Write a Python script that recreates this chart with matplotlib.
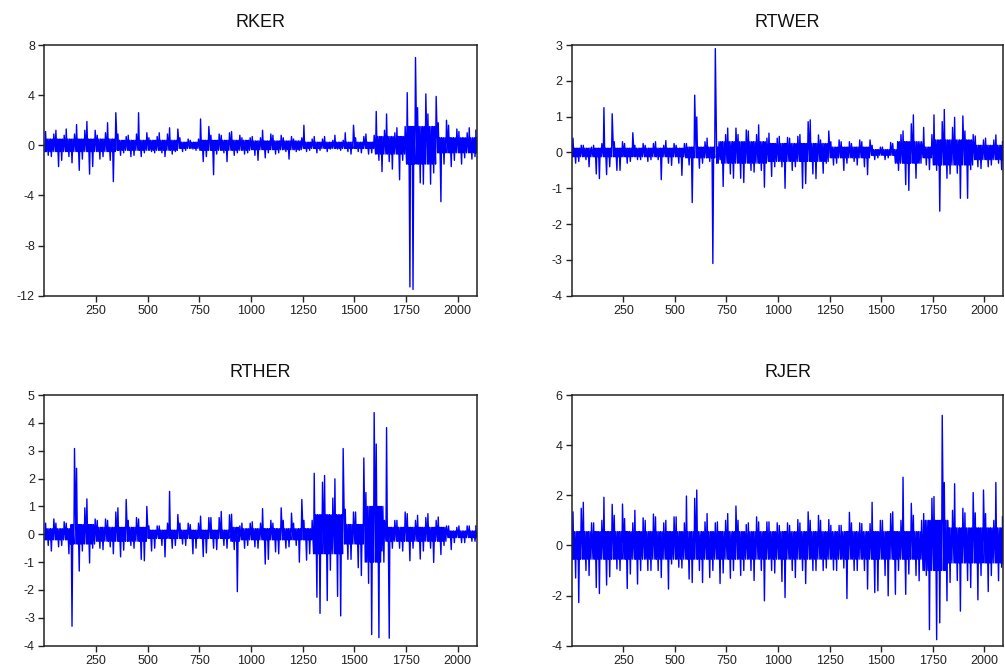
import numpy as np
import matplotlib
matplotlib.use("Agg")
import matplotlib.pyplot as plt

plt.rcParams['font.family'] = ['Liberation Sans', 'DejaVu Sans']
plt.rcParams['axes.unicode_minus'] = False

n_obs = 2088
bin_width = 25

rker_hi = [1.1, 0.9, 1.2, 0.8, 1.3, 0.9, 1.65, 1.2, 1.9, 1.2,
           0.8, 1.0, 1.8, 2.6, 0.9, 0.7, 0.8, 0.9, 2.6, 1.0,
           0.6, 0.7, 1.0, 0.9, 1.4, 1.3, 0.6, 0.5, 0.4, 0.5,
           2.1, 1.5, 0.8, 0.9, 0.8, 1.0, 1.1, 0.8, 0.6, 0.6,
           0.7, 0.6, 1.2, 0.9, 0.8, 0.8, 0.6, 0.7, 0.5, 0.6,
           1.6, 0.5, 0.7, 0.5, 0.7, 0.4, 0.8, 0.4, 1.0, 1.6,
           0.6, 0.7, 0.9, 0.8, 2.7, 1.2, 2.5, 1.0, 1.4, 1.5,
           4.2, 7.0, 3.0, 4.1, 2.5, 3.9, 1.8, 2.0, 1.6, 1.3,
           1.1, 1.0, 1.4, 1.2]
rker_lo = [-0.8, -0.9, -1.7, -1.2, -0.9, -1.4, -2.0, -1.1, -2.3, -1.7,
           -1.1, -0.9, -1.2, -2.9, -0.8, -0.6, -0.9, -0.8, -0.9, -0.6,
           -0.5, -0.6, -0.6, -0.9, -0.7, -0.5, -0.5, -0.4, -0.3, -0.4,
           -1.3, -0.9, -2.35, -0.7, -0.6, -1.3, -0.8, -0.6, -0.7, -0.6,
           -0.8, -1.2, -1.0, -0.6, -0.7, -0.6, -0.5, -1.1, -0.5, -0.4,
           -0.5, -0.4, -0.6, -0.4, -0.5, -0.3, -0.3, -0.4, -0.5, -0.7,
           -0.5, -0.6, -0.7, -0.6, -1.2, -2.1, -1.3, -1.9, -2.75, -1.2,
           -11.3, -11.5, -3.0, -3.1, -3.1, -2.2, -4.5, -1.5, -1.7, -1.2,
           -1.5, -1.0, -1.1, -0.9]
# dense core of the trace: segment edges (obs) and half-width of the busy band
rker_core_edges = [0, 350, 650, 750, 1000, 1250, 1600, 1750, 1900, 2088]
rker_core_half = [0.5, 0.4, 0.25, 0.4, 0.35, 0.25, 0.7, 1.5, 0.6]

rtwer_hi = [0.4, 0.2, 0.2, 0.15, 0.2, 0.25, 1.25, 1.08, 0.3, 0.3,
            0.25, 0.55, 0.2, 0.25, 0.2, 0.25, 0.3, 0.2, 0.33, 0.25,
            0.2, 0.25, 0.25, 1.6, 0.99, 0.3, 0.4, 2.9, 0.15, 0.5,
            0.68, 0.68, 0.5, 0.63, 0.6, 0.5, 0.77, 0.4, 0.54, 0.4,
            0.45, 0.42, 0.4, 0.45, 0.5, 0.86, 0.91, 0.49, 0.35, 0.6,
            0.3, 0.35, 0.3, 0.3, 0.25, 0.35, 0.3, 0.35, 0.2, 0.15,
            0.15, 0.28, 0.25, 0.5, 0.6, 0.8, 1.05, 0.3, 0.7, 0.5,
            1.05, 0.86, 1.2, 0.7, 0.98, 1.02, 0.6, 0.5, 0.46, 0.35,
            0.4, 0.35, 0.49, 0.3]
rtwer_lo = [-0.3, -0.25, -0.2, -0.4, -0.6, -0.73, -0.62, -0.4, -0.5, -0.5,
            -0.3, -0.25, -0.2, -0.2, -0.25, -0.2, -0.2, -0.76, -0.3, -0.36,
            -0.3, -0.64, -0.35, -1.4, -0.44, -0.3, -0.25, -3.1, -0.2, -0.95,
            -0.6, -0.72, -0.72, -0.84, -0.5, -0.55, -0.5, -0.97, -0.67, -0.4,
            -0.4, -1.0, -0.5, -0.4, -1.0, -0.87, -0.6, -0.73, -0.58, -0.3,
            -0.35, -0.3, -0.5, -0.3, -0.25, -0.35, -0.4, -0.62, -0.2, -0.15,
            -0.2, -0.15, -0.3, -0.5, -0.9, -1.06, -0.72, -0.3, -0.35, -0.48,
            -0.5, -1.64, -0.72, -0.6, -0.58, -1.28, -1.28, -0.48, -0.4, -0.45,
            -0.4, -0.35, -0.3, -0.48]
rtwer_core_edges = [0, 550, 700, 950, 1250, 1450, 1580, 1700, 1750, 1950, 2088]
rtwer_core_half = [0.12, 0.15, 0.3, 0.25, 0.15, 0.08, 0.3, 0.15, 0.35, 0.2]

rther_hi = [0.4, 0.55, 0.4, 0.45, 0.4, 3.08, 2.37, 0.95, 1.27, 0.55,
            0.5, 0.55, 0.5, 0.8, 0.95, 1.25, 0.5, 0.6, 0.55, 1.0,
            0.3, 0.3, 0.3, 0.4, 1.54, 0.71, 0.4, 0.4, 0.35, 0.4,
            0.65, 0.6, 0.6, 0.6, 0.82, 0.7, 0.72, 0.3, 0.4, 0.4,
            0.45, 0.4, 0.92, 0.5, 0.4, 0.95, 0.5, 0.76, 0.4, 1.25,
            0.5, 0.5, 2.19, 1.87, 2.11, 1.3, 1.99, 3.08, 0.9, 0.8,
            0.8, 2.74, 1.5, 4.37, 3.24, 0.5, 3.83, 0.5, 0.5, 0.8,
            0.74, 0.5, 0.68, 0.6, 0.74, 0.5, 0.62, 0.3, 0.3, 0.25,
            0.3, 0.3, 0.3, 0.3]
rther_lo = [-0.4, -0.6, -0.45, -0.4, -0.7, -3.3, -1.32, -0.6, -1.03, -0.5,
            -0.5, -0.55, -0.45, -0.7, -0.81, -0.57, -0.4, -0.5, -0.9, -0.95,
            -0.6, -0.5, -0.4, -0.81, -0.5, -0.4, -0.35, -0.4, -0.7, -0.5,
            -0.8, -0.67, -0.5, -0.55, -0.4, -0.5, -0.55, -2.06, -0.5, -0.4,
            -0.45, -0.5, -1.07, -0.9, -0.63, -0.7, -0.5, -0.45, -0.4, -1.0,
            -0.93, -0.7, -2.26, -2.84, -2.38, -1.29, -2.23, -2.93, -0.9, -0.9,
            -1.2, -1.48, -1.76, -3.6, -3.71, -0.6, -3.73, -0.5, -0.5, -0.6,
            -0.95, -0.5, -0.89, -0.6, -0.5, -1.01, -0.73, -0.4, -0.55, -0.3,
            -0.3, -0.3, -0.25, -0.25]
rther_core_edges = [0, 120, 250, 500, 900, 950, 1300, 1460, 1560, 1650, 1950, 2088]
rther_core_half = [0.2, 0.35, 0.25, 0.15, 0.25, 0.2, 0.7, 0.35, 1.0, 0.25, 0.12]

rjer_hi = [1.34, 1.48, 1.72, 0.9, 0.9, 1.0, 1.92, 1.64, 1.2, 1.65,
           1.07, 0.9, 1.4, 1.1, 1.0, 1.25, 1.14, 0.9, 1.0, 1.14,
           1.14, 0.9, 1.97, 1.88, 2.21, 0.94, 1.27, 0.9, 0.94, 1.0,
           1.27, 1.57, 1.0, 0.83, 0.9, 1.14, 0.94, 0.94, 0.94, 0.9,
           0.8, 0.9, 0.8, 1.03, 0.9, 1.34, 1.0, 1.2, 1.0, 1.03,
           0.8, 0.8, 0.8, 1.32, 0.9, 0.9, 0.87, 0.87, 1.72, 1.0,
           1.0, 1.27, 1.34, 1.0, 2.72, 1.68, 1.2, 1.0, 1.27, 1.88,
           1.95, 5.19, 2.51, 1.4, 2.46, 1.48, 1.3, 2.11, 1.3, 2.21,
           1.27, 1.0, 2.51, 1.14]
rjer_lo = [-1.3, -2.28, -1.0, -1.2, -1.68, -1.92, -1.58, -1.25, -0.94, -1.0,
           -1.72, -1.14, -1.54, -1.0, -1.0, -1.0, -1.0, -1.28, -1.74, -0.74,
           -0.87, -0.9, -1.34, -1.48, -1.0, -1.48, -1.28, -1.0, -1.52, -1.1,
           -1.31, -1.0, -1.2, -1.0, -1.0, -1.4, -1.0, -2.21, -1.0, -1.1,
           -1.44, -2.08, -1.0, -1.28, -1.0, -1.52, -1.0, -1.0, -1.0, -0.9,
           -0.98, -1.0, -0.9, -2.12, -1.0, -1.0, -1.0, -1.74, -1.88, -1.81,
           -1.2, -2.01, -1.95, -1.0, -1.95, -1.14, -1.2, -1.41, -1.2, -3.36,
           -3.76, -3.09, -2.21, -1.48, -1.4, -2.62, -1.4, -1.68, -2.17, -1.2,
           -1.84, -1.2, -1.41, -0.87]
rjer_core_edges = [0, 1700, 1830, 2088]
rjer_core_half = [0.55, 1.0, 0.7]

x_ticks = [250, 500, 750, 1000, 1250, 1500, 1750, 2000]

panels = [
    ("RKER", rker_hi, rker_lo, rker_core_edges, rker_core_half,
     (-12, 8), [-12, -8, -4, 0, 4, 8]),
    ("RTWER", rtwer_hi, rtwer_lo, rtwer_core_edges, rtwer_core_half,
     (-4, 3), [-4, -3, -2, -1, 0, 1, 2, 3]),
    ("RTHER", rther_hi, rther_lo, rther_core_edges, rther_core_half,
     (-4, 5), [-4, -3, -2, -1, 0, 1, 2, 3, 4, 5]),
    ("RJER", rjer_hi, rjer_lo, rjer_core_edges, rjer_core_half,
     (-4, 6), [-4, -2, 0, 2, 4, 6]),
]

# axes rectangles in figure fraction [left, bottom, width, height]
rects = [
    [0.0441, 0.5593, 0.4302, 0.3736],
    [0.5689, 0.5593, 0.4294, 0.3736],
    [0.0441, 0.0377, 0.4302, 0.3736],
    [0.5689, 0.0377, 0.4294, 0.3736],
]


def trace(hi, lo, edges, half):
    # per bin: its high and low, with swings through the busy band in between;
    # odd bins take the low first so the peaks do not line up as a comb
    xs, ys = [], []
    for k, (h, l) in enumerate(zip(hi, lo)):
        x0 = k * bin_width
        seg = np.searchsorted(edges, x0 + 12, side='right') - 1
        c = half[min(seg, len(half) - 1)]
        if k % 2 == 0:
            steps = [(3, -c), (6, h), (10, -c), (14, c), (19, l), (22, c)]
        else:
            steps = [(2, -c), (5, c), (9, l), (13, c), (18, -c), (21, h)]
        for dx, y in steps:
            xs.append(min(x0 + dx, n_obs))
            ys.append(y)
    return xs, ys


fig = plt.figure(figsize=(10.05, 6.71), dpi=100)

for (name, hi, lo, edges, half, ylim, yticks), rect in zip(panels, rects):
    ax = fig.add_axes(rect)
    xs, ys = trace(hi, lo, edges, half)
    ax.plot(xs, ys, color='#0000ff', linewidth=1.0)
    ax.set_xlim(0, 2092)
    ax.set_ylim(*ylim)
    ax.set_xticks(x_ticks)
    ax.set_yticks(yticks)
    ax.tick_params(direction='out', length=4.3, width=1.0, labelsize=9,
                   pad=2.5, colors='#222222')
    ax.tick_params(axis='x', top=False)
    ax.tick_params(axis='y', right=False)
    for sp in ax.spines.values():
        sp.set_linewidth(1.1)
        sp.set_color('#222222')
    ax.set_title(name, fontsize=13, pad=13, color='#111111')

fig.savefig("out.png", dpi=100)
